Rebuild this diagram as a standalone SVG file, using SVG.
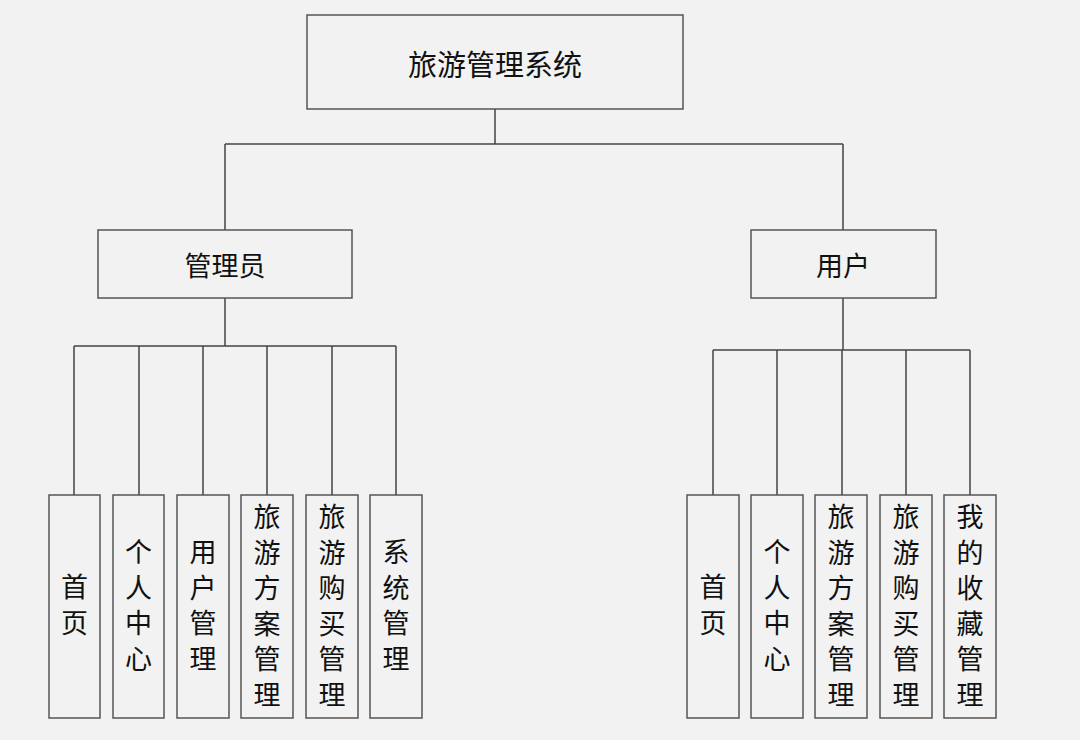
<svg xmlns="http://www.w3.org/2000/svg" width="1080" height="740" viewBox="0 0 1080 740">
<style>
.bg{fill:#f2f2f2}
.box{fill:#f2f2f2;stroke:#555;stroke-width:1.5}
.ln{fill:none;stroke:#444;stroke-width:1.5}
.t{font-family:"Noto Sans CJK SC","Liberation Sans",sans-serif;fill:#111;text-anchor:middle;dominant-baseline:central}
.big{font-size:29px}
.mid{font-size:27px}
.v{font-family:"Noto Sans CJK SC","Liberation Sans",sans-serif;fill:#111;font-size:27px;writing-mode:vertical-rl;text-orientation:upright;letter-spacing:8.5px;text-anchor:start}
</style>
<rect class="bg" x="0" y="0" width="1080" height="740"/>
<g id="connectors">
<path class="ln" d="M495 109V144M225 144H843M225 144V230M843 144V230"/>
<path class="ln" d="M225 298V346M74 346H396M74 346V495M139 346V495M203 346V495M267 346V495M332 346V495M396 346V495"/>
<path class="ln" d="M843 298V350M713 350H970M713 350V495M777 350V495M842 350V495M906 350V495M970 350V495"/>
</g>
<g id="root"><rect class="box" x="307" y="15" width="376" height="94"/><text class="t big" x="495" y="63">旅游管理系统</text></g>
<g id="admin"><rect class="box" x="98" y="230" width="254" height="68"/><text class="t mid" x="225" y="264">管理员</text></g>
<g id="user"><rect class="box" x="751" y="230" width="185" height="68"/><text class="t mid" x="843" y="264">用户</text></g>
<g id="a1"><rect class="box" x="49" y="495" width="51" height="223"/><text class="v" x="74.5" y="573.5">首页</text></g>
<g id="a2"><rect class="box" x="113" y="495" width="51" height="223"/><text class="v" x="138.5" y="538.5">个人中心</text></g>
<g id="a3"><rect class="box" x="177" y="495" width="52" height="223"/><text class="v" x="203" y="538.5">用户管理</text></g>
<g id="a4"><rect class="box" x="241" y="495" width="52" height="223"/><text class="v" x="267" y="503.5">旅游方案管理</text></g>
<g id="a5"><rect class="box" x="306" y="495" width="52" height="223"/><text class="v" x="332" y="503.5">旅游购买管理</text></g>
<g id="a6"><rect class="box" x="370" y="495" width="52" height="223"/><text class="v" x="396" y="538.5">系统管理</text></g>
<g id="u1"><rect class="box" x="687" y="495" width="52" height="223"/><text class="v" x="713" y="573.5">首页</text></g>
<g id="u2"><rect class="box" x="751" y="495" width="52" height="223"/><text class="v" x="777" y="538.5">个人中心</text></g>
<g id="u3"><rect class="box" x="815" y="495" width="52" height="223"/><text class="v" x="841" y="503.5">旅游方案管理</text></g>
<g id="u4"><rect class="box" x="880" y="495" width="52" height="223"/><text class="v" x="906" y="503.5">旅游购买管理</text></g>
<g id="u5"><rect class="box" x="944" y="495" width="52" height="223"/><text class="v" x="970" y="503.5">我的收藏管理</text></g>
</svg>
